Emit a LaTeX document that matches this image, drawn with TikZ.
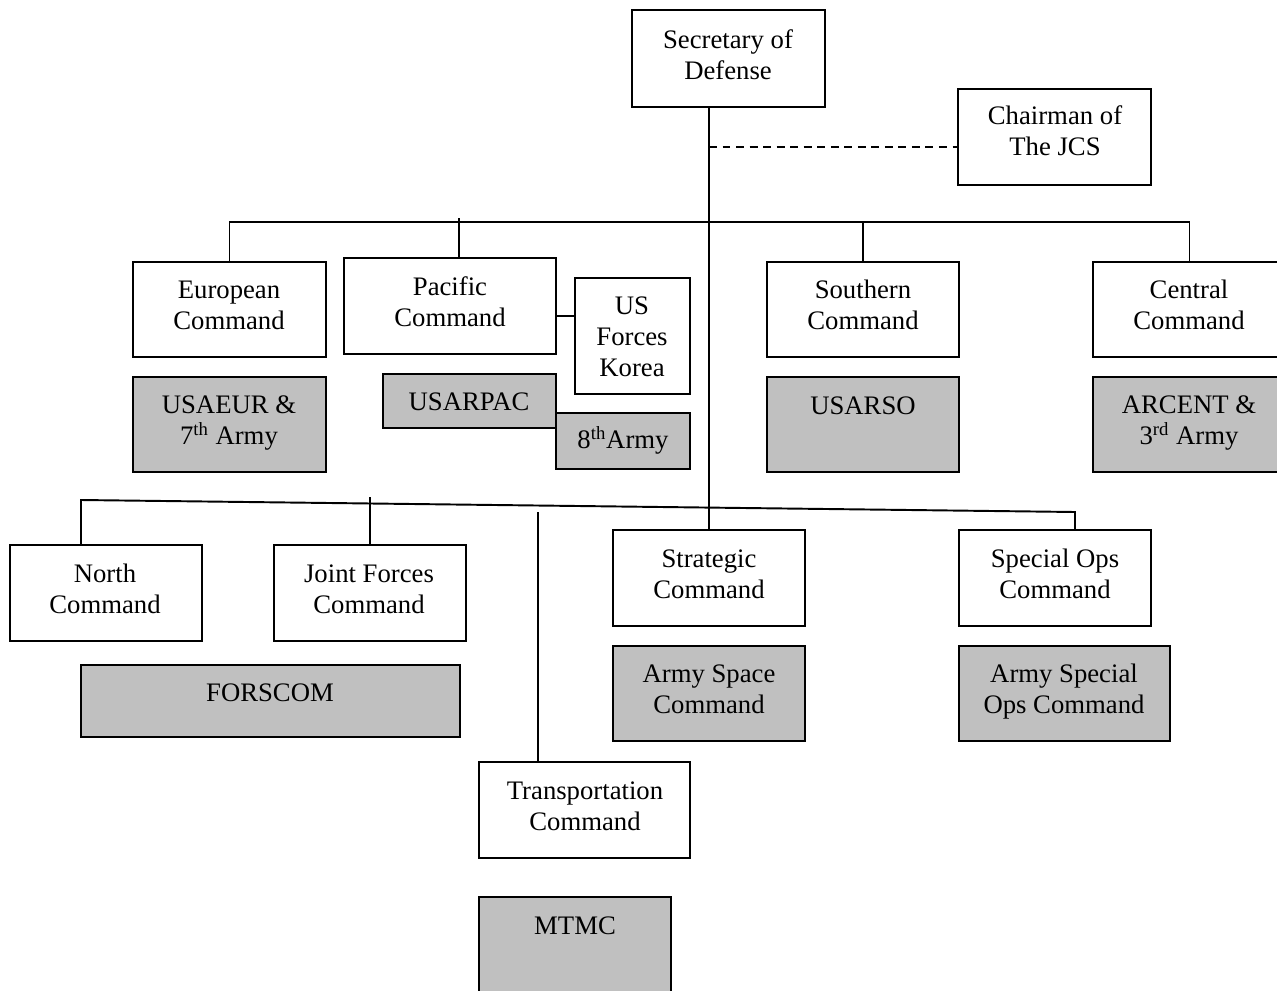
\documentclass[tikz,border=0pt]{standalone}
\usepackage{fontspec}
\setmainfont{Liberation Serif}
\usetikzlibrary{fit}
\definecolor{gfill}{HTML}{C0C0C0}
\begin{document}
\begin{tikzpicture}[x=0.02cm,y=-0.02cm,
  box/.style={draw, line width=1.1pt, inner sep=0pt, fill=white},
  gbox/.style={box, fill=gfill},
  txt/.style={align=center, inner sep=0pt, font=\fontsize{15.2}{17.6}\selectfont},
  conn/.style={line width=1.1pt}]
\useasboundingbox (0,0) rectangle (1277,990);
% boxes
\node[box, fit={(632,10) (825,107)}] (sec) {};
\node[box, fit={(958,89) (1151,185)}] (jcs) {};
\node[box, fit={(133,262) (326,357)}] (eur) {};
\node[box, fit={(344,258) (556,354)}] (pac) {};
\node[box, fit={(575,278) (690,394)}] (kor) {};
\node[box, fit={(767,262) (959,357)}] (sou) {};
\node[box, fit={(1093,262) (1286,357)}] (cen) {};
\node[gbox, fit={(133,377) (326,472)}] (usaeur) {};
\node[gbox, fit={(383,374) (556,428)}] (usarpac) {};
\node[gbox, fit={(556,413) (690,469)}] (eighth) {};
\node[gbox, fit={(767,377) (959,472)}] (usarso) {};
\node[gbox, fit={(1093,377) (1286,472)}] (arcent) {};
\node[box, fit={(10,545) (202,641)}] (nor) {};
\node[box, fit={(274,545) (466,641)}] (jfc) {};
\node[box, fit={(613,530) (805,626)}] (strat) {};
\node[box, fit={(959,530) (1151,626)}] (spo) {};
\node[gbox, fit={(81,665) (460,737)}] (forscom) {};
\node[gbox, fit={(613,646) (805,741)}] (space) {};
\node[gbox, fit={(959,646) (1170,741)}] (asoc) {};
\node[box, fit={(479,762) (690,858)}] (trn) {};
\node[gbox, fit={(479,897) (671,996)}] (mtmc) {};
% texts
\node[txt] (sect) at (728,55) {Secretary of\\Defense};
\node[txt] (jcst) at (1055,131) {Chairman of\\The JCS};
\node[txt] (eurt) at (229,305) {European\\Command};
\node[txt] (pact) at (450,302) {Pacific\\Command};
\node[txt] (kort) at (632,337) {US\\Forces\\Korea};
\node[txt] (sout) at (863,305) {Southern\\Command};
\node[txt] (cent) at (1189,305) {Central\\Command};
\node[txt] (usaeurt) at (229,423) {USAEUR \&\\7\textsuperscript{th} Army};
\node[txt] (usarpact) at (469,402) {USARPAC};
\node[txt] (eightht) at (623,440) {8\textsuperscript{th}Army};
\node[txt] (usarsot) at (863,406) {USARSO};
\node[txt] (arcentt) at (1189,423) {ARCENT \&\\3\textsuperscript{rd} Army};
\node[txt] (nort) at (105,589) {North\\Command};
\node[txt] (jfct) at (369,589) {Joint Forces\\Command};
\node[txt] (stratt) at (709,574) {Strategic\\Command};
\node[txt] (spot) at (1055,574) {Special Ops\\Command};
\node[txt] (forscomt) at (270,693) {FORSCOM};
\node[txt] (spacet) at (709,689) {Army Space\\Command};
\node[txt] (asoct) at (1064,692) {Army Special\\Ops Command};
\node[txt] (trnt) at (585,806) {Transportation\\Command};
\node[txt] (mtmct) at (575,926) {MTMC};
% connectors
\coordinate (bus) at (0,222);
\coordinate (dm) at (710,147);
\coordinate (pt) at (459,218);
\coordinate (kc) at (0,316);
\coordinate (r2L) at (81,500);
\coordinate (r2R) at (1075,512);
\coordinate (jt) at (370,497);
\coordinate (tt) at (538,512);
\draw[conn] (strat.north |- sec.south) -- (strat.north);
\draw[conn, dash pattern=on 4.5pt off 3.2pt] (strat.north |- dm) -- (jcs.west |- dm);
\draw[conn] (eur.north) -- (eur.north |- bus) -- (cen.north |- bus) -- (cen.north);
\draw[conn] (pt) -- (pt |- pac.north);
\draw[conn] (sou.north) -- (sou.north |- bus);
\draw[conn] (pac.east |- kc) -- (kor.west |- kc);
\draw[conn] (r2L |- nor.north) -- (r2L) -- (r2R) -- (r2R |- spo.north);
\draw[conn] (jt) -- (jt |- jfc.north);
\draw[conn] (tt) -- (tt |- trn.north);
\end{tikzpicture}
\end{document}
